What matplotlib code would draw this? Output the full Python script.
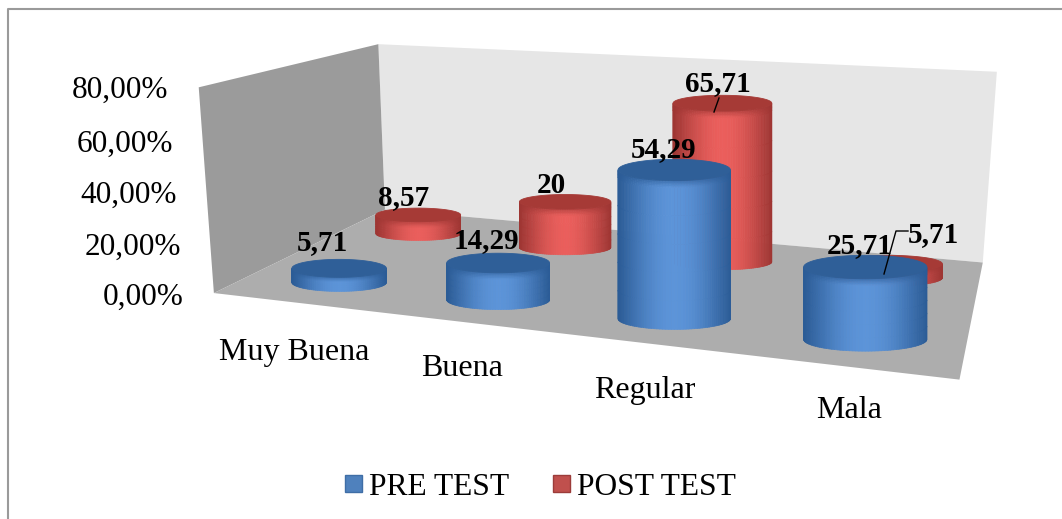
import numpy as np
import matplotlib
matplotlib.use('Agg')
from matplotlib import pyplot as plt
from matplotlib.collections import PolyCollection
from matplotlib.patches import Rectangle

categories = ['Muy Buena', 'Buena', 'Regular', 'Mala']
pre_test = [5.71, 14.29, 54.29, 25.71]
post_test = [8.57, 20, 65.71, 5.71]
pre_labels = ['5,71', '14,29', '54,29', '25,71']
post_labels = ['8,57', '20', '65,71', '5,71']
tick_labels = ['0,00%', '20,00%', '40,00%', '60,00%', '80,00%']

plt.rcParams['font.family'] = ['Liberation Serif', 'DejaVu Serif']

# box corners: (category pos, depth, value) -> pixel in the picture
corners_3d = [(0, 0, 0), (4, 0, 0), (0, 1, 0), (4, 1, 0), (0, 0, 80), (0, 1, 80), (4, 1, 80)]
corners_px = [(214, 294), (959, 380), (385, 209), (983, 262), (199, 86), (378, 45), (997, 72)]

# where the bars stand inside each category slot
pre_offset = [0.56, 0.54, 0.52, 0.50]
post_offset = [0.51, 0.52, 0.50, 0.50]


def fit_camera(pts, px):
    rows = []
    for (x, y, z), (u, w) in zip(pts, px):
        rows.append([x, y, z, 1, 0, 0, 0, 0, -u*x, -u*y, -u*z, -u])
        rows.append([0, 0, 0, 0, x, y, z, 1, -w*x, -w*y, -w*z, -w])
    _, _, vt = np.linalg.svd(np.array(rows, float))
    return vt[-1].reshape(3, 4)


cam = fit_camera(corners_3d, corners_px)
height_gain = 1.02


def project(x, y, z):
    x, y, z = np.broadcast_arrays(np.asarray(x, float), np.asarray(y, float), np.asarray(z, float))
    p = np.stack([x, y, z, np.ones_like(x)])
    q = cam @ p.reshape(4, -1)
    return np.column_stack([q[0]/q[2], q[1]/q[2]])


def shade(dark, light, t):
    return np.array(dark)*(1-t) + np.array(light)*t


def cylinder(ax, u, v, value, dark, light, top, rad_u, flat):
    base = project(u, v, 0)[0]
    peak = project(u, v, value*height_gain)[0]
    edge = project(u + rad_u, v, 0)[0]
    rx = edge[0] - base[0]
    ry = rx*flat
    n_a, bevel = 60, min(7, (base[1]-peak[1])*0.35)
    ang = np.linspace(0, np.pi, n_a+1)
    cx = np.cos(ang)
    steps = np.r_[np.linspace(0, bevel, 6), np.linspace(bevel, base[1]-peak[1], 6)[1:]]
    polys, cols = [], []
    for j in range(len(steps)-1):
        d0, d1 = steps[j], steps[j+1]
        fade = min(((d0+d1)/2)/bevel, 1) if bevel > 0 else 1
        for i in range(n_a):
            x0, x1 = peak[0]+rx*cx[i], peak[0]+rx*cx[i+1]
            y0, y1 = peak[1]+ry*np.sin(ang[i]), peak[1]+ry*np.sin(ang[i+1])
            polys.append([(x0, y0+d0), (x1, y1+d0), (x1, y1+d1), (x0, y0+d1)])
            t = np.cos(np.pi/2*abs(cx[i]+cx[i+1])/2)**1.1
            cols.append(shade(dark, light, t*(0.35+0.65*fade)))
    ax.add_collection(PolyCollection(polys, facecolors=cols, edgecolors=cols, linewidths=0.5, zorder=ax.zcount))
    full = np.linspace(0, 2*np.pi, 121)
    ax.fill(peak[0]+rx*np.cos(full), peak[1]+ry*np.sin(full), color=top, lw=0.6, zorder=ax.zcount+0.1)
    ax.zcount += 1


fig = plt.figure(figsize=(10.62, 5.19), dpi=100)
ax = fig.add_axes([0, 0, 1, 1])
ax.set_xlim(0, 1062)
ax.set_ylim(519, 0)
ax.axis('off')
ax.zcount = 3

# outer frame, right side is cut off in the picture
ax.plot([8, 8, 1062], [519, 9, 9], color='#9a9a9a', lw=1.5, zorder=1)

# walls
left = project([0, 0, 0, 0], [0, 1, 1, 0], [0, 0, 80, 80])
back = project([0, 4, 4, 0], [1, 1, 1, 1], [0, 0, 80, 80])
floor = project([0, 4, 4, 0], [0, 0, 1, 1], [0, 0, 0, 0])
ax.fill(back[:, 0], back[:, 1], color='#e6e6e6', lw=0, zorder=2)
ax.fill(left[:, 0], left[:, 1], color='#9b9b9b', lw=0, zorder=2)
ax.fill(floor[:, 0], floor[:, 1], color='#adadad', lw=0, zorder=2)

idx = np.arange(len(categories))
for i in idx:
    cylinder(ax, i+post_offset[i], 0.75, post_test[i], (0.62, 0.21, 0.20), (0.92, 0.37, 0.36), '#a63a36', 0.30, 0.16)
for i in idx:
    cylinder(ax, i+pre_offset[i], 0.20, pre_test[i], (0.17, 0.36, 0.59), (0.36, 0.58, 0.85), '#2f5f98', 0.30, 0.19)

# value labels, x centre and baseline
pre_pos = [(322, 250), (486, 248), (664, 157), (860, 253)]
post_pos = [(404, 205), (551, 193), (718, 91), (933, 242)]
for lab, pos in zip(pre_labels + post_labels, pre_pos + post_pos):
    ax.text(pos[0], pos[1], lab, fontsize=21, fontweight='bold', ha='center', va='baseline', zorder=50)
ax.plot([719, 714], [98, 112], color='k', lw=1, zorder=49)
ax.plot([908, 896, 884], [231, 231, 274], color='k', lw=1, zorder=49)

# axis text
tick_x = [184, 181, 177, 173, 168]
tick_y = [305, 255, 203, 152, 98]
for lab, x, y in zip(tick_labels, tick_x, tick_y):
    ax.text(x, y, lab, fontsize=22.5, ha='right', va='baseline', zorder=50)
cat_x = [294, 462, 645, 849]
cat_y = [360, 376, 398, 418]
for lab, x, y in zip(categories, cat_x, cat_y):
    ax.text(x, y, lab, fontsize=23, ha='center', va='baseline', zorder=50)

# legend
ax.add_patch(Rectangle((345, 475), 17, 17, fc='#4f81bd', ec='#3f6ea6', lw=1, zorder=50))
ax.text(369, 495, 'PRE TEST', fontsize=22.7, ha='left', va='baseline', zorder=50)
ax.add_patch(Rectangle((553, 475), 17, 17, fc='#c0504d', ec='#9c3c3a', lw=1, zorder=50))
ax.text(577, 495, 'POST TEST', fontsize=22.7, ha='left', va='baseline', zorder=50)

fig.savefig('out.png', dpi=100)
